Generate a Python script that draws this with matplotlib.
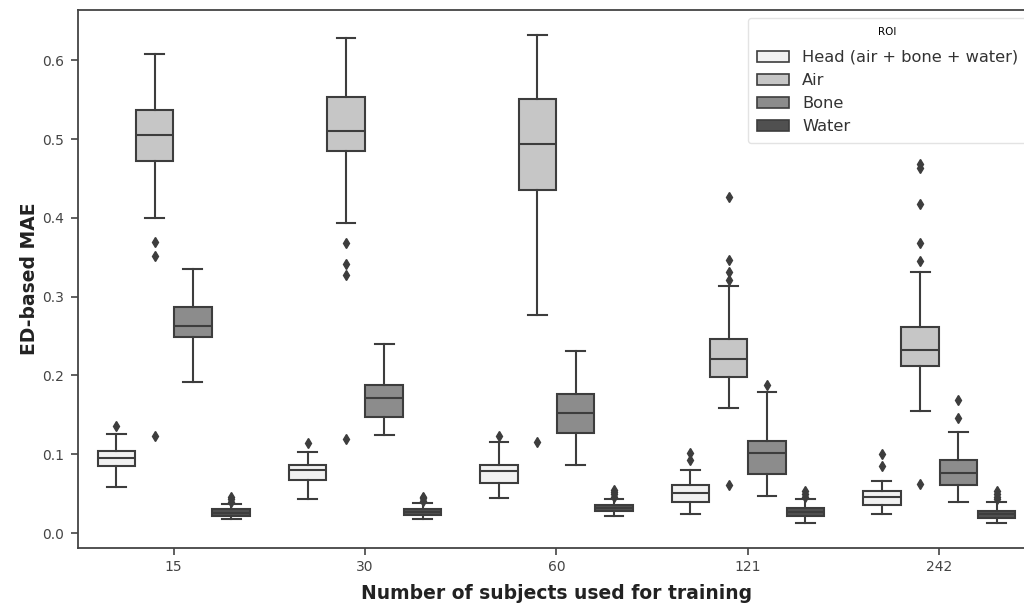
import matplotlib
matplotlib.use("Agg")
import matplotlib.pyplot as plt
from matplotlib.patches import Patch

# categories on the x axis
groups = ["15", "30", "60", "121", "242"]
rois = ["Head (air + bone + water)", "Air", "Bone", "Water"]
colors = ["#f1f1f1", "#c6c6c6", "#8c8c8c", "#505050"]
edge = "#3d3d3d"

# box statistics, one list per ROI (5 groups each)
head_med = [0.095, 0.080, 0.079, 0.051, 0.046]
head_q1 = [0.085, 0.067, 0.063, 0.040, 0.036]
head_q3 = [0.104, 0.086, 0.086, 0.061, 0.053]
head_lo = [0.058, 0.043, 0.044, 0.024, 0.024]
head_hi = [0.126, 0.103, 0.116, 0.080, 0.066]
head_fl = [[0.136], [0.114], [0.123], [0.093, 0.101], [0.085, 0.100]]

air_med = [0.505, 0.511, 0.494, 0.221, 0.232]
air_q1 = [0.472, 0.485, 0.435, 0.198, 0.212]
air_q3 = [0.537, 0.553, 0.551, 0.246, 0.261]
air_lo = [0.400, 0.393, 0.277, 0.159, 0.155]
air_hi = [0.608, 0.628, 0.632, 0.313, 0.331]
air_fl = [[0.123, 0.352, 0.369],
          [0.119, 0.327, 0.341, 0.368],
          [0.116],
          [0.061, 0.321, 0.332, 0.346, 0.427],
          [0.062, 0.345, 0.368, 0.418, 0.463, 0.468]]

bone_med = [0.263, 0.172, 0.153, 0.101, 0.076]
bone_q1 = [0.249, 0.147, 0.127, 0.075, 0.061]
bone_q3 = [0.287, 0.188, 0.176, 0.117, 0.093]
bone_lo = [0.192, 0.124, 0.086, 0.047, 0.040]
bone_hi = [0.335, 0.240, 0.231, 0.179, 0.128]
bone_fl = [[], [], [], [0.188], [0.146, 0.169]]

water_med = [0.026, 0.027, 0.032, 0.027, 0.024]
water_q1 = [0.022, 0.023, 0.028, 0.021, 0.019]
water_q3 = [0.030, 0.031, 0.035, 0.032, 0.028]
water_lo = [0.018, 0.018, 0.022, 0.013, 0.013]
water_hi = [0.037, 0.038, 0.043, 0.043, 0.039]
water_fl = [[0.040, 0.043, 0.046],
            [0.041, 0.044, 0.046],
            [0.046, 0.049, 0.052, 0.055],
            [0.046, 0.049, 0.053],
            [0.043, 0.046, 0.049, 0.053]]

series = [
    (head_med, head_q1, head_q3, head_lo, head_hi, head_fl),
    (air_med, air_q1, air_q3, air_lo, air_hi, air_fl),
    (bone_med, bone_q1, bone_q3, bone_lo, bone_hi, bone_fl),
    (water_med, water_q1, water_q3, water_lo, water_hi, water_fl),
]

fig = plt.figure(figsize=(10.24, 6.06), dpi=100)
ax = fig.add_axes([0.0762, 0.0957, 0.9345, 0.8878])

n_hue = len(rois)
slot = 0.8 / n_hue
offsets = [-0.4 + slot * (k + 0.5) for k in range(n_hue)]

for k, (med, q1, q3, lo, hi, fl) in enumerate(series):
    stats = []
    for i in range(len(groups)):
        stats.append(dict(med=med[i], q1=q1[i], q3=q3[i],
                          whislo=lo[i], whishi=hi[i], fliers=fl[i]))
    pos = [i + offsets[k] for i in range(len(groups))]
    ax.bxp(stats, positions=pos, widths=slot * 0.98, capwidths=slot * 0.49,
           patch_artist=True, showfliers=True,
           boxprops=dict(facecolor=colors[k], edgecolor=edge, linewidth=1.5),
           medianprops=dict(color=edge, linewidth=1.5),
           whiskerprops=dict(color=edge, linewidth=1.5),
           capprops=dict(color=edge, linewidth=1.5),
           flierprops=dict(marker="d", markerfacecolor=edge, markeredgecolor=edge,
                           markersize=5.5, linestyle="none"))

ax.set_xlim(-0.5, len(groups) - 0.5)
ax.set_ylim(-0.019, 0.664)
ax.set_xticks(range(len(groups)))
ax.set_xticklabels(groups)
ax.set_yticks([0.0, 0.1, 0.2, 0.3, 0.4, 0.5, 0.6])
ax.tick_params(colors="#444444", labelsize=10, length=5, width=1.2)
ax.tick_params(axis="y", pad=5)
for s in ax.spines.values():
    s.set_color("#444444")
    s.set_linewidth(1.3)

ax.set_xlabel("Number of subjects used for training", fontsize=13.5,
              fontweight="bold", color="#222222", labelpad=7)
ax.set_ylabel("ED-based MAE", fontsize=13.5, fontweight="bold", color="#222222",
              labelpad=2)

handles = [Patch(facecolor=c, edgecolor=edge, linewidth=1.2) for c in colors]
leg = ax.legend(handles, rois, title="ROI", loc="upper right", fontsize=11.7,
                title_fontsize=7.5, frameon=True, handlelength=2.0,
                borderaxespad=0.5, labelspacing=0.5, borderpad=0.53)
leg._legend_box.sep = 9.5  # a bit more room under the small title
leg.get_frame().set_edgecolor("#dddddd")
for t in leg.get_texts():
    t.set_color("#333333")

fig.savefig("out.png", dpi=100)
